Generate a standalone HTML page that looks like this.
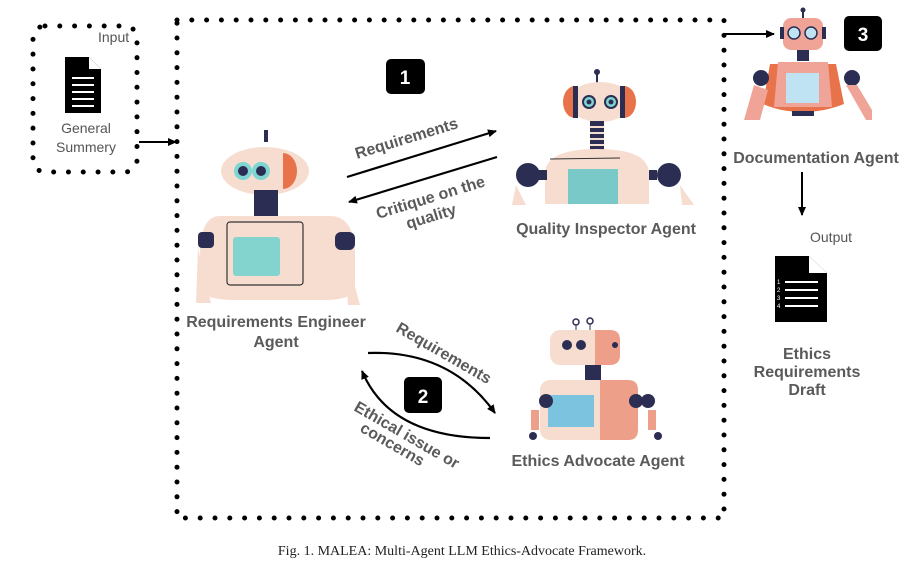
<!DOCTYPE html>
<html><head><meta charset="utf-8"><style>
body{margin:0;background:#fff}
svg{display:block}
.l{font-family:"Liberation Sans",sans-serif;font-weight:bold;fill:#5a5a5a;font-size:16px}
.n{font-family:"Liberation Sans",sans-serif;fill:#555;font-size:14px}
</style></head><body>
<svg width="924" height="565" viewBox="0 0 924 565" xmlns="http://www.w3.org/2000/svg">
<defs>
<marker id="a" markerWidth="10" markerHeight="10" refX="8" refY="5" orient="auto" markerUnits="userSpaceOnUse"><path d="M0,1 L9,5 L0,9 z" fill="#000"/></marker>
</defs>
<rect x="177" y="20" width="547" height="498" fill="none" stroke="#000" stroke-width="5" stroke-linecap="round" stroke-dasharray="0 14.8"/>
<rect x="33" y="26" width="104" height="146" rx="12" fill="none" stroke="#000" stroke-width="5" stroke-linecap="round" stroke-dasharray="0 14.8"/>
<text x="98" y="42" class="n">Input</text>
<path d="M65,57 h24 l12,12 v44 h-36 z" fill="#000"/>
<path d="M89,57 v12 h12" fill="#fff"/>
<g stroke="#fff" stroke-width="2"><line x1="72" y1="78" x2="94" y2="78"/><line x1="72" y1="85" x2="94" y2="85"/><line x1="72" y1="92" x2="94" y2="92"/><line x1="72" y1="99" x2="94" y2="99"/><line x1="72" y1="106" x2="94" y2="106"/></g>
<text x="86" y="133" class="n" text-anchor="middle">General</text>
<text x="86" y="152" class="n" text-anchor="middle">Summery</text>
<line x1="139" y1="142" x2="176" y2="142" stroke="#000" stroke-width="2" marker-end="url(#a)"/>
<rect x="386" y="59" width="39" height="35" rx="5" fill="#000"/><text x="405" y="84" text-anchor="middle" fill="#fff" font-family="Liberation Sans,sans-serif" font-weight="bold" font-size="19">1</text>
<rect x="404" y="377" width="38" height="36" rx="5" fill="#000"/><text x="423" y="403" text-anchor="middle" fill="#fff" font-family="Liberation Sans,sans-serif" font-weight="bold" font-size="19">2</text>
<rect x="844" y="16" width="38" height="35" rx="5" fill="#000"/><text x="863" y="41" text-anchor="middle" fill="#fff" font-family="Liberation Sans,sans-serif" font-weight="bold" font-size="19">3</text>
<!-- RE robot -->
<g>
<rect x="264" y="130" width="4" height="12" fill="#2b2d52"/>
<ellipse cx="265" cy="171" rx="44" ry="24" fill="#f7ddd0"/>
<path d="M283,153 a14,18 0 0 1 0,36 z" fill="#e8734a"/>
<circle cx="243" cy="171" r="9" fill="#7fd5d2"/><circle cx="243" cy="171" r="5" fill="#2b2d52"/>
<circle cx="261" cy="171" r="9" fill="#7fd5d2"/><circle cx="261" cy="171" r="5" fill="#2b2d52"/>
<rect x="254" y="190" width="24" height="26" fill="#2b2d52"/>
<path d="M220,216 h110 q25,0 25,40 v30 q0,14 -30,14 h-90 q-35,0 -35,-14 v-30 q0,-40 20,-40 z" fill="#f7ddd0"/>
<rect x="227" y="222" width="76" height="63" rx="3" fill="none" stroke="#333" stroke-width="1.2"/>
<rect x="233" y="237" width="47" height="39" rx="3" fill="#83d3cf"/>
<rect x="198" y="232" width="16" height="16" rx="4" fill="#2b2d52"/><rect x="335" y="232" width="20" height="18" rx="6" fill="#2b2d52"/>
<path d="M198,248 l-2,55 h15 z" fill="#f7ddd0"/><path d="M345,250 l15,55 h-12 z" fill="#f7ddd0"/>
</g>
<!-- QI robot -->
<g>
<circle cx="597" cy="72" r="3" fill="#2b2d52"/><line x1="597" y1="72" x2="597" y2="83" stroke="#2b2d52" stroke-width="2"/>
<ellipse cx="600" cy="102" rx="32" ry="20" fill="#f7ddd0"/>
<path d="M575,86 a12,16 0 0 0 0,32 z" fill="#e8734a"/><path d="M624,86 a12,16 0 0 1 0,32 z" fill="#e8734a"/>
<rect x="573" y="86" width="5" height="32" fill="#2b2d52"/><rect x="620" y="86" width="5" height="32" fill="#2b2d52"/>
<circle cx="589" cy="102" r="6" fill="#7fd5d2" stroke="#2b2d52" stroke-width="2"/><circle cx="589" cy="102" r="2.5" fill="#2b2d52"/>
<circle cx="611" cy="102" r="6" fill="#7fd5d2" stroke="#2b2d52" stroke-width="2"/><circle cx="611" cy="102" r="2.5" fill="#2b2d52"/>
<rect x="590" y="121" width="14" height="30" fill="#2b2d52"/>
<g stroke="#f7ddd0" stroke-width="2"><line x1="590" y1="127" x2="604" y2="127"/><line x1="590" y1="133" x2="604" y2="133"/><line x1="590" y1="139" x2="604" y2="139"/><line x1="590" y1="145" x2="604" y2="145"/></g>
<path d="M545,204 v-30 q0,-25 52,-25 q52,0 52,25 v30 z" fill="#f7ddd0"/>
<line x1="550" y1="159" x2="620" y2="158" stroke="#333" stroke-width="1"/>
<rect x="568" y="169" width="50" height="35" fill="#78c9c8"/>
<circle cx="528" cy="175" r="12" fill="#2b2d52"/><circle cx="669" cy="175" r="12" fill="#2b2d52"/>
<rect x="539" y="170" width="8" height="10" fill="#2b2d52"/><rect x="649" y="170" width="8" height="10" fill="#2b2d52"/>
<path d="M516,185 l-4,20 h14 z" fill="#f7ddd0"/><path d="M680,185 l14,20 h-12 z" fill="#f7ddd0"/>
</g>
<!-- EA robot -->
<g>
<circle cx="576" cy="322" r="3" fill="none" stroke="#2b2d52" stroke-width="1.5"/><circle cx="590" cy="321" r="3" fill="none" stroke="#2b2d52" stroke-width="1.5"/>
<line x1="576" y1="325" x2="576" y2="331" stroke="#2b2d52"/><line x1="590" y1="324" x2="590" y2="331" stroke="#2b2d52"/>
<rect x="550" y="330" width="70" height="35" rx="10" fill="#f7ddd0"/><path d="M595,330 h15 q10,0 10,10 v15 q0,10 -10,10 h-15 z" fill="#ed9f8a"/>
<circle cx="567" cy="345" r="5" fill="#2b2d52"/><circle cx="581" cy="345" r="5" fill="#2b2d52"/><circle cx="615" cy="345" r="3" fill="#2b2d52"/>
<rect x="585" y="365" width="16" height="15" fill="#2b2d52"/>
<rect x="540" y="380" width="98" height="60" rx="10" fill="#f7ddd0"/><path d="M600,380 h28 q10,0 10,10 v40 q0,10 -10,10 h-28 z" fill="#ed9f8a"/>
<rect x="548" y="395" width="46" height="32" fill="#7bc3de"/>
<circle cx="546" cy="401" r="7" fill="#2b2d52"/><circle cx="636" cy="401" r="7" fill="#2b2d52"/><circle cx="648" cy="401" r="7" fill="#2b2d52"/>
<rect x="531" y="410" width="8" height="20" fill="#ed9f8a"/><rect x="648" y="410" width="8" height="20" fill="#ed9f8a"/>
<circle cx="533" cy="436" r="4" fill="#2b2d52"/><circle cx="658" cy="436" r="4" fill="#2b2d52"/>
</g>
<!-- Doc robot -->
<g>
<circle cx="803" cy="10" r="2.5" fill="#2b2d52"/><line x1="803" y1="10" x2="803" y2="18" stroke="#2b2d52" stroke-width="2"/>
<rect x="783" y="18" width="40" height="32" rx="8" fill="#f0a498"/>
<rect x="780" y="27" width="4" height="12" fill="#2b2d52"/><rect x="822" y="27" width="4" height="12" fill="#2b2d52"/>
<circle cx="794" cy="33" r="6" fill="#bfe3f3" stroke="#2b2d52" stroke-width="1.5"/><circle cx="811" cy="33" r="6" fill="#bfe3f3" stroke="#2b2d52" stroke-width="1.5"/>
<rect x="797" y="50" width="12" height="11" fill="#2b2d52"/>
<path d="M770,64 h66 l8,40 q-20,8 -41,8 q-22,0 -40,-8 z" fill="#e8734a"/>
<path d="M778,62 h50 l4,45 h-58 z" fill="#f0a498"/>
<rect x="786" y="73" width="33" height="30" fill="#bfe3f3"/>
<rect x="792" y="111" width="22" height="5" fill="#2b2d52"/>
<circle cx="761" cy="78" r="8" fill="#2b2d52"/><circle cx="852" cy="78" r="8" fill="#2b2d52"/>
<path d="M754,85 l-10,35 h16 l8,-30 z" fill="#f0a498"/><path d="M846,85 l20,35 h6 v-10 l-15,-25 z" fill="#f0a498"/>
</g>
<line x1="724" y1="34" x2="774" y2="34" stroke="#000" stroke-width="2" marker-end="url(#a)"/>
<text x="816" y="163" class="l" text-anchor="middle">Documentation Agent</text>
<line x1="802" y1="172" x2="802" y2="215" stroke="#000" stroke-width="2" marker-end="url(#a)"/>
<text x="810" y="242" class="n">Output</text>
<path d="M775,256 h34 l18,17 v49 h-52 z" fill="#000"/>
<path d="M809,256 v17 h18" fill="#fff"/>
<g stroke="#fff" stroke-width="2"><line x1="785" y1="282" x2="818" y2="282"/><line x1="785" y1="290" x2="818" y2="290"/><line x1="785" y1="298" x2="818" y2="298"/><line x1="785" y1="306" x2="818" y2="306"/></g>
<g fill="#fff" font-size="6" font-family="Liberation Sans,sans-serif"><text x="777" y="284">1</text><text x="777" y="292">2</text><text x="777" y="300">3</text><text x="777" y="308">4</text></g>
<text x="807" y="359" class="l" text-anchor="middle">Ethics</text>
<text x="807" y="377" class="l" text-anchor="middle">Requirements</text>
<text x="807" y="395" class="l" text-anchor="middle">Draft</text>
<text x="276" y="327" class="l" text-anchor="middle">Requirements Engineer</text>
<text x="276" y="347" class="l" text-anchor="middle">Agent</text>
<text x="606" y="234" class="l" text-anchor="middle">Quality Inspector Agent</text>
<text x="598" y="466" class="l" text-anchor="middle">Ethics Advocate Agent</text>
<line x1="347" y1="177" x2="496" y2="131" stroke="#000" stroke-width="2.2" marker-end="url(#a)"/>
<line x1="497" y1="157" x2="349" y2="202" stroke="#000" stroke-width="2.2" marker-end="url(#a)"/>
<text class="l" transform="translate(357,159) rotate(-17)">Requirements</text>
<text class="l" transform="translate(378,219) rotate(-17)">Critique on the</text>
<text class="l" transform="translate(408,229) rotate(-17)">quality</text>
<path d="M368,353 Q450,350 495,413" fill="none" stroke="#000" stroke-width="2.2" marker-end="url(#a)"/>
<path d="M490,438 Q390,438 362,371" fill="none" stroke="#000" stroke-width="2.2" marker-end="url(#a)"/>
<text class="l" transform="translate(395,331) rotate(30)">Requirements</text>
<text class="l" transform="translate(353,410) rotate(30)">Ethical issue or</text>
<text class="l" transform="translate(359,431) rotate(30)">concerns</text>
<text x="462" y="555" text-anchor="middle" font-family="Liberation Serif,serif" font-size="14" fill="#222">Fig. 1.  MALEA: Multi-Agent LLM Ethics-Advocate Framework.</text>
</svg>
</body></html>
